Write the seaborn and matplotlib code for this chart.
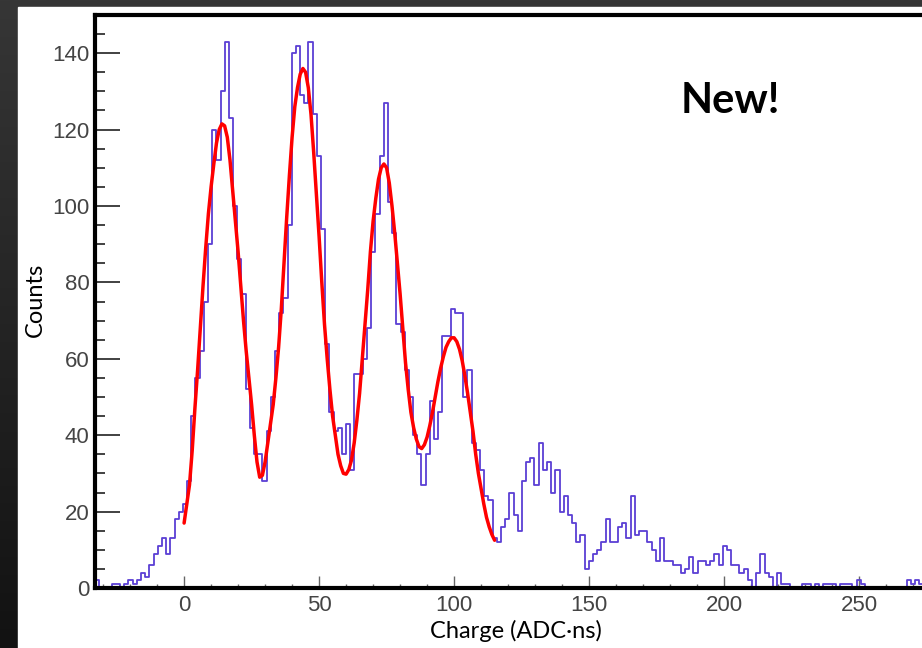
import numpy as np
import pandas as pd
import matplotlib
matplotlib.use("Agg")
import matplotlib.pyplot as plt
from matplotlib.colors import LinearSegmentedColormap
from matplotlib.patches import Rectangle
from matplotlib.ticker import MultipleLocator
import seaborn as sns

# histogram: 200 bins from -33 to 277 (ADC*ns)
BIN_LO, BIN_HI = -33.0, 277.0
counts = [
    2, 0, 0, 0, 1, 1, 0, 1, 2, 1, 2, 4, 3, 6, 9, 11, 13, 9, 13, 18, 20, 22,
    28, 45, 55, 62, 75, 90, 120, 112, 130, 143, 123, 100, 86, 77, 52, 42, 35, 35,
    28, 41, 50, 62, 72, 76,
    95, 140, 142, 129, 127, 143, 124, 113, 94, 64, 46, 41, 42, 35, 43, 31, 56, 56,
    60, 68, 88, 98, 113, 127, 101, 93, 69, 67, 57, 50, 40,
    35, 27, 35, 49, 39, 46, 66, 66, 73, 72, 72, 50, 57, 38, 36, 31, 24, 23, 13, 12,
    16, 18, 25, 19, 15, 28, 33,
    34, 27, 38, 31, 33, 25, 31, 20, 24, 19, 17, 12, 14, 5, 7, 9, 10, 12, 18, 12,
    12, 16, 17, 13, 24, 14, 15, 15, 12, 10, 7, 13, 7, 7, 6, 6, 4, 5, 8, 4,
    7, 7, 6, 7, 9, 6, 11, 10, 6, 6, 4, 5, 2, 0, 4, 9, 4, 3, 0, 4, 1, 1,
    0, 0, 0, 1, 1, 0, 1, 0, 1, 1, 1, 0, 1, 1, 1, 0, 2, 1, 0, 0,
    0, 0, 0, 0, 0, 0, 0, 0, 2, 1, 2, 1, 0, 0,
]

# multi-peak fit curve at charge = 0, 1, ..., 115
fit_x = list(range(0, 116))
fit_y = [
    17, 22, 27, 36, 47, 57, 68, 79, 89, 98,
    105, 111, 116.5, 120, 121.5, 121, 118, 112, 104, 96,
    88, 79, 70, 62, 55, 48, 40, 33, 29, 29.5,
    33, 38, 43, 48, 55, 63, 73, 85, 97, 108,
    118, 126, 131, 134.5, 136, 135, 131, 124, 114, 103,
    92, 80, 69, 60, 52, 45, 40, 35, 32, 30,
    29.8, 31, 33.5, 38, 44, 51, 60, 69, 78, 88,
    96, 102, 107, 110, 111, 110, 106, 100, 93, 85,
    77, 68, 59, 52, 46, 42, 39, 37, 36.5, 37.5,
    39.5, 42.5, 46, 50, 54, 57.5, 60.5, 63, 64.5, 65.5,
    65.5, 64.5, 62.5, 59.5, 55.5, 51, 46, 41, 35, 30,
    26, 22, 18.5, 16, 14, 12.5,
]

x_ticks = [0, 50, 100, 150, 200, 250]
y_ticks = [0, 20, 40, 60, 80, 100, 120, 140]

sns.set_theme(style="white")
plt.rcParams["font.family"] = ["Liberation Sans", "DejaVu Sans"]

W, H = 922, 648
fig = plt.figure(figsize=(W / 100, H / 100), dpi=100)

# dark slide background + white picture panel
bg = fig.add_axes([0, 0, 1, 1])
grad = np.linspace(0, 1, 256).reshape(-1, 1)
cmap = LinearSegmentedColormap.from_list("bg", ["#363636", "#121212"])
bg.imshow(grad, aspect="auto", cmap=cmap, extent=[0, 1, 0, 1])
bg.add_patch(Rectangle((18 / W, 0), 1, 1 - 7 / H, color="white", zorder=2))
bg.set_xlim(0, 1)
bg.set_ylim(0, 1)
bg.axis("off")

# main axes (right side runs off the picture)
x0, x1 = -33, 277
left = 95 / W
bottom = (H - 588) / H
top = 1 - 15 / H
width = (x1 - x0) * 2.7 / W
ax = fig.add_axes([left, bottom, width, top - bottom])
ax.set_facecolor("white")

edges = np.linspace(BIN_LO, BIN_HI, len(counts) + 1)
hist_df = pd.DataFrame({"charge": (edges[:-1] + edges[1:]) / 2, "n": counts})
sns.histplot(data=hist_df, x="charge", weights="n", bins=list(edges),
             element="step", fill=False, color="#5b3fd4", linewidth=1.3, ax=ax)
sns.lineplot(x=fit_x, y=fit_y, color="#ff0000", linewidth=2.5, ax=ax)

ax.set_xlim(x0, x1)
ax.set_ylim(0, 150)
ax.set_xticks(x_ticks)
ax.set_yticks(y_ticks)
ax.xaxis.set_minor_locator(MultipleLocator(10))
ax.yaxis.set_minor_locator(MultipleLocator(5))
ax.set_xlabel("")
ax.set_ylabel("")

for s in ax.spines.values():
    s.set_color("black")
    s.set_linewidth(3.0)

ax.tick_params(axis="y", which="major", direction="in", length=18, width=1.3,
               color="#333333", labelsize=16, labelcolor="#444444", pad=4, left=True)
ax.tick_params(axis="y", which="minor", direction="in", length=7.5, width=1.3,
               color="#333333", left=True)
ax.tick_params(axis="x", which="major", direction="in", length=9, width=1.0,
               color="#666666", labelsize=16, labelcolor="#444444", pad=5, bottom=True)
ax.tick_params(axis="x", which="minor", direction="in", length=3, width=1.0,
               color="#666666", bottom=True)

lab_font = ["Lato", "DejaVu Sans"]
fig.text(35 / W, 1 - 300 / H, "Counts", rotation=90, ha="center", va="center",
         fontsize=17, family=lab_font, color="black")
fig.text(516 / W, 1 - 631 / H, "Charge (ADC·ns)", ha="center", va="center",
         fontsize=17, family=lab_font, color="black")
fig.text(730 / W, 1 - 101 / H, "New!", ha="center", va="center",
         fontsize=30, fontweight="bold", family=lab_font, color="black")

fig.savefig("out.png", dpi=100)
